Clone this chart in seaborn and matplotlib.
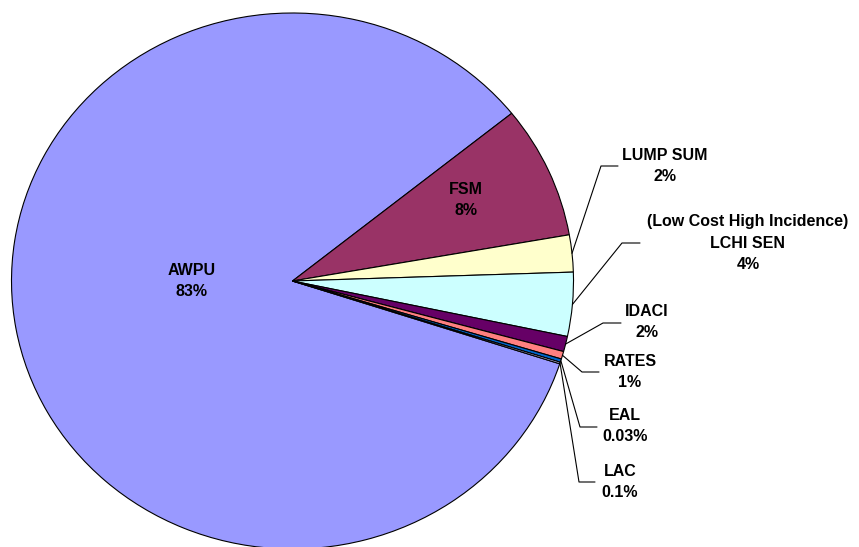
import numpy as np
import matplotlib
matplotlib.use("Agg")
import matplotlib.pyplot as plt
import seaborn as sns

# ---- data ----
categories = ["AWPU", "FSM", "LUMP SUM", "LCHI SEN", "IDACI", "RATES", "EAL", "LAC"]
values = [84.25, 8.0, 2.23, 3.85, 0.92, 0.46, 0.2, 0.1]
label_texts = ["AWPU\n83%", "FSM\n8%", "LUMP SUM\n2%",
               "(Low Cost High Incidence)\nLCHI SEN\n4%",
               "IDACI\n2%", "RATES\n1%", "EAL\n0.03%", "LAC\n0.1%"]
colors = ["#9999FF", "#993366", "#FFFFCC", "#CCFFFF", "#660066", "#FF8080", "#0066CC", "#CCCCFF"]

sns.set_theme(style="white")
plt.rcParams["font.family"] = ["Liberation Sans", "DejaVu Sans"]
plt.rcParams["text.color"] = "black"

W, H = 859, 547
fig = plt.figure(figsize=(W / 100, H / 100), dpi=100)
fig.patch.set_facecolor("white")

# pie geometry in pixels (layout)
cx, cy, rx, ry = 292.5, 281.0, 281.0, 268.0
ax = fig.add_axes([(cx - rx) / W, (H - cy - ry) / H, 2 * rx / W, 2 * ry / H])

palette = sns.color_palette(colors)
wedges, _ = ax.pie(values, colors=palette, startangle=-18.0, counterclock=False,
                   wedgeprops=dict(edgecolor="black", linewidth=0.8))
ax.set_aspect("auto")
ax.set_xlim(-1, 1)
ax.set_ylim(-1, 1)
ax.axis("off")


def px2d(px, py):
    return (px - cx) / rx, (cy - py) / ry


fs = 11.5
ls = 1.58
# inside labels
for i, (px, py) in {0: (192, 281), 1: (466, 200)}.items():
    x, y = px2d(px, py)
    ax.text(x, y, label_texts[i], ha="center", va="center", fontsize=fs,
            fontweight="bold", linespacing=ls, color="black", clip_on=False)

# outside labels: text center, elbow point, line end
outside = {
    2: ((665, 166), (601, 166), (618, 166)),
    3: ((748, 243), (622, 243), (640, 243)),
    4: ((647, 322), (603, 323), (621, 323)),
    5: ((630, 372), (582, 372), (599, 372)),
    6: ((625, 426), (580, 427), (597, 427)),
    7: ((620, 482), (579, 482), (595, 482)),
}
for i, (tpos, elbow, lend) in outside.items():
    w = wedges[i]
    ang = np.deg2rad((w.theta1 + w.theta2) / 2)
    sx, sy = np.cos(ang), np.sin(ang)
    ex, ey = px2d(*elbow)
    lx, ly = px2d(*lend)
    ax.plot([sx, ex, lx], [sy, ey, ly], color="black", lw=0.8, clip_on=False)
    x, y = px2d(*tpos)
    ax.text(x, y, label_texts[i], ha="center", va="center", fontsize=fs,
            fontweight="bold", linespacing=ls, color="black", clip_on=False)

fig.savefig("out.png", dpi=100, facecolor="white")
